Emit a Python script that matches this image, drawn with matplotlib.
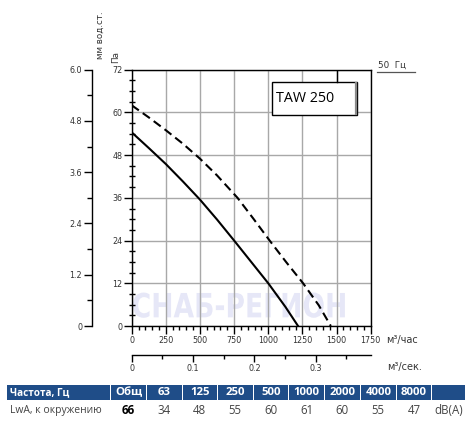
import matplotlib
matplotlib.use("Agg")
import matplotlib.pyplot as plt
from matplotlib.patches import Rectangle, PathPatch
from matplotlib.textpath import TextPath
from matplotlib.font_manager import FontProperties
from matplotlib.transforms import Affine2D
import numpy as np

# ---- data ----
flow_solid = [0, 125, 250, 375, 500, 625, 750, 875, 1000, 1125, 1218]
pa_solid = [54.4, 50.0, 45.5, 40.6, 35.5, 29.9, 24.0, 18.0, 12.0, 5.4, 0.0]
flow_dash = [0, 125, 250, 375, 500, 625, 775, 890, 1010, 1130, 1255, 1370, 1458]
pa_dash = [62.0, 58.6, 55.0, 51.2, 47.0, 42.3, 36.0, 30.2, 24.0, 18.0, 12.0, 5.8, 0.0]

pa_ticks = [0, 12, 24, 36, 48, 60, 72]
mm_ticks = [0, 1.2, 2.4, 3.6, 4.8, 6.0]
mm_labels = ["0", "1.2", "2.4", "3.6", "4.8", "6.0"]
flow_ticks = [0, 250, 500, 750, 1000, 1250, 1500, 1750]
ms_ticks = [0, 0.1, 0.2, 0.3]
ms_labels = ["0", "0.1", "0.2", "0.3"]

model = "TAW 250"
freq_label = "50  Гц"
hdr_first = "Частота, Гц"
hdr_cols = ["Общ", "63", "125", "250", "500", "1000", "2000", "4000", "8000", ""]
row_first = "LwA, к окружению"
row_vals = ["66", "34", "48", "55", "60", "61", "60", "55", "47", "dB(A)"]
watermark = "СНАБ-РЕГИОН"

W, H = 474, 424
fig = plt.figure(figsize=(W / 100, H / 100), dpi=100)

def fx(px):
    return px / W

def fy(py):
    return 1 - py / H

tfam = ["DejaVu Sans"]
tick_color = "#333333"
tsize = 5.8

# main axes
x0, x1 = 131.7, 370.7
y0, y1 = 69.7, 326.0
ax = fig.add_axes([fx(x0), fy(y1), (x1 - x0) / W, (y1 - y0) / H])
ax.set_xlim(0, 1750)
ax.set_ylim(0, 72)
ax.set_xticks(flow_ticks)
ax.set_xticks(np.arange(0, 1751, 50), minor=True)
ax.set_yticks(pa_ticks)
ax.set_yticks(np.arange(0, 73, 3), minor=True)
ax.grid(True, which="major", color="#a8a8a8", linewidth=1.0)
ax.set_axisbelow(True)
for s in ax.spines.values():
    s.set_linewidth(1.0)
ax.tick_params(axis="x", which="major", direction="out", length=5.5, width=1.0, pad=2,
               labelsize=tsize, labelcolor=tick_color)
ax.tick_params(axis="x", which="minor", direction="out", length=3.2, width=1.0)
ax.tick_params(axis="y", which="major", direction="out", length=5.5, width=1.0, pad=1,
               labelsize=tsize, labelcolor=tick_color)
ax.tick_params(axis="y", which="minor", direction="inout", length=4.0, width=1.0)
for lab in ax.get_xticklabels() + ax.get_yticklabels():
    lab.set_fontfamily(tfam)

# faint watermark text (under the grid)
tp = TextPath((0, 0), watermark, size=10, prop=FontProperties(family="DejaVu Sans", weight="bold"))
ext = tp.get_extents()
tx0, tx1, ty0, ty1 = 9.5, 1561, 2.3, 9.4
tr = (Affine2D().translate(-ext.x0, -ext.y0)
      .scale((tx1 - tx0) / ext.width, (ty1 - ty0) / ext.height)
      .translate(tx0, ty0))
ax.add_patch(PathPatch(tr.transform_path(tp), facecolor="#e6e7f7", edgecolor="none", zorder=0.3))

ax.plot(flow_solid, pa_solid, color="black", lw=1.5, zorder=3)
ax.plot(flow_dash, pa_dash, color="black", lw=1.5, ls=(0, (4.2, 2.3)), zorder=3)

# model box
bx0, bx1 = 1025, 1652
by0, by1 = 59.3, 68.6
ax.add_patch(Rectangle((bx0, by0), bx1 - bx0, by1 - by0, facecolor="white",
                       edgecolor="black", lw=1.0, zorder=4))
ax.plot([bx1 - 8, bx1 - 8], [by0 + 0.2, by1 - 0.2], color="#8a8a8a", lw=1.6, zorder=4.5)
ax.plot([1501, 1501], [by1, 72], color="black", lw=1.0, zorder=4)
ax.text(bx0 + 35, (by0 + by1) / 2, model, ha="left", va="center", fontsize=10.3,
        family=["Open Sans", "DejaVu Sans"], zorder=5)

# mm axis
axm = fig.add_axes([fx(92), fy(y1), 0.0001, (y1 - y0) / H])
axm.set_ylim(0, 6)
axm.set_xticks([])
for k in ["top", "right", "bottom"]:
    axm.spines[k].set_visible(False)
axm.spines["left"].set_linewidth(1.0)
axm.patch.set_visible(False)
axm.set_yticks(mm_ticks)
axm.set_yticklabels(mm_labels)
axm.set_yticks(np.arange(0, 6.01, 0.6), minor=True)
axm.tick_params(axis="y", which="major", direction="out", length=6, width=1.0, pad=1,
                labelsize=tsize, labelcolor=tick_color)
axm.tick_params(axis="y", which="minor", direction="out", length=3.4, width=1.0)
for lab in axm.get_yticklabels():
    lab.set_fontfamily(tfam)

# m3/s axis
axs = fig.add_axes([fx(x0), fy(355), (x1 - x0) / W, 0.0001])
axs.set_xlim(0, 1750 / 4490)
axs.set_yticks([])
for k in ["top", "right", "left"]:
    axs.spines[k].set_visible(False)
axs.spines["bottom"].set_linewidth(1.0)
axs.patch.set_visible(False)
axs.set_xticks(ms_ticks)
axs.set_xticklabels(ms_labels)
axs.set_xticks(np.arange(0, 0.38, 0.05), minor=True)
axs.tick_params(axis="x", which="major", direction="out", length=5, width=1.0, pad=1.5,
                labelsize=tsize, labelcolor=tick_color)
axs.tick_params(axis="x", which="minor", direction="out", length=3, width=1.0)
for lab in axs.get_xticklabels():
    lab.set_fontfamily(tfam)

# labels
fig.text(fx(100), fy(59), "мм вод.ст.", rotation=90, ha="center", va="bottom",
         fontsize=6.3, family=tfam, color=tick_color)
fig.text(fx(116), fy(63), "Па", rotation=90, ha="center", va="bottom",
         fontsize=6.3, family=tfam, color=tick_color)
fig.text(fx(386), fy(340), "м³/час", ha="left", va="center", fontsize=7,
         family=tfam, color=tick_color)
fig.text(fx(387), fy(367), "м³/сек.", ha="left", va="center", fontsize=7,
         family=tfam, color=tick_color)
fig.text(fx(377.5), fy(65.5), freq_label, ha="left", va="center", fontsize=6.3,
         family=tfam, color=tick_color)
fig.add_artist(plt.Line2D([fx(376.5), fx(415)], [fy(72), fy(72)], color="#555555", lw=0.9))

# table overlay
axt = fig.add_axes([0, 0, 1, 1])
axt.set_xlim(0, W)
axt.set_ylim(H, 0)
axt.axis("off")
axt.patch.set_visible(False)

bounds = [7.3, 110.7, 146.7, 182.3, 217.3, 253.3, 288.7, 324.3, 360.3, 396.3, 431.7, 465.5]
blue = "#1f4d88"
ht, hb = 385.0, 399.5
for i in range(len(bounds) - 1):
    a = bounds[i] + (0.6 if i > 0 else 0)
    b = bounds[i + 1] - 0.6
    axt.add_patch(Rectangle((a, ht), b - a, hb - ht, facecolor=blue, edgecolor="none"))
tfont = ["Open Sans", "DejaVu Sans"]
axt.text(10, (ht + hb) / 2 + 0.3, hdr_first, ha="left", va="center", fontsize=7.1,
         fontweight="bold", color="white", family=tfont)
for i, h in enumerate(hdr_cols):
    cx = (bounds[i + 1] + bounds[i + 2]) / 2
    axt.text(cx, (ht + hb) / 2 + 0.3, h, ha="center", va="center", fontsize=8.2,
             fontweight="bold", color="white", family=tfont)
ry = 410
axt.text(10, ry, row_first, ha="left", va="center", fontsize=7.5, color="#444444", family=tfont)
for i, v in enumerate(row_vals):
    cx = (bounds[i + 1] + bounds[i + 2]) / 2
    if i == 0:
        axt.text(cx, ry, v, ha="center", va="center", fontsize=8.3, fontweight="bold",
                 color="black", family=tfont)
    else:
        axt.text(cx, ry, v, ha="center", va="center", fontsize=8.3, color="#444444",
                 family=tfont)

fig.savefig("out.png", dpi=100)
